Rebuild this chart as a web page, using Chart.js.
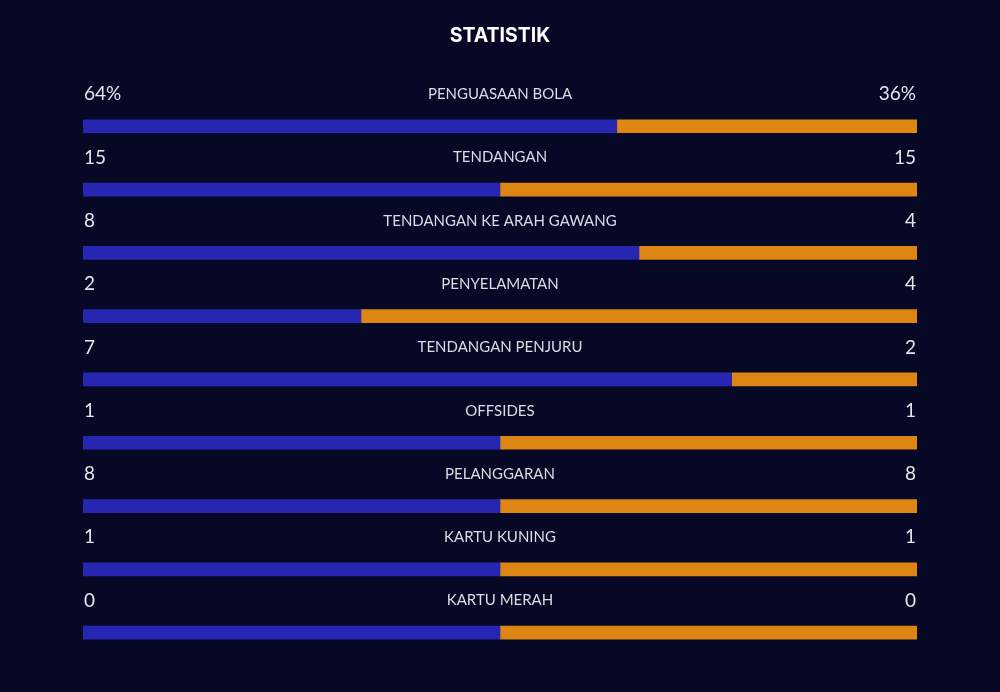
<!DOCTYPE html>
<html>
<head>
<meta charset="utf-8">
<script src="https://cdn.jsdelivr.net/npm/chart.js@4.4.1/dist/chart.umd.min.js"></script>
<style>
html,body{margin:0;padding:0;background:#070726;}
#wrap{width:1000px;height:692px;position:relative;}
</style>
</head>
<body>
<div id="wrap"><canvas id="c"></canvas></div>
<script>
const categories = ["PENGUASAAN BOLA","TENDANGAN","TENDANGAN KE ARAH GAWANG","PENYELAMATAN","TENDANGAN PENJURU","OFFSIDES","PELANGGARAN","KARTU KUNING","KARTU MERAH"];
const homeValues = [64,15,8,2,7,1,8,1,0];
const awayValues = [36,15,4,4,2,1,8,1,0];
const homeLabels = ["64%","15","8","2","7","1","8","1","0"];
const awayLabels = ["36%","15","4","4","2","1","8","1","0"];

const homeShare = homeValues.map((h,i)=>{const t=h+awayValues[i];return t===0?50:h/t*100;});
const awayShare = homeShare.map(v=>100-v);

const labelPlugin = {
  id:'rowLabels',
  afterDatasetsDraw(chart){
    const ctx = chart.ctx;
    const meta = chart.getDatasetMeta(0);
    const area = chart.chartArea;
    ctx.save();
    ctx.textBaseline='middle';
    meta.data.forEach((bar,i)=>{
      const y = bar.y - 32;
      ctx.fillStyle='#e6e6ee';
      ctx.font='19px Lato';
      ctx.textAlign='left';
      ctx.fillText(homeLabels[i], area.left+1, y);
      ctx.textAlign='right';
      ctx.fillText(awayLabels[i], area.right-1, y);
      ctx.font='15px Lato';
      ctx.fillStyle='#dcdce4';
      ctx.textAlign='center';
      ctx.fillText(categories[i], (area.left+area.right)/2, y);
    });
    ctx.restore();
  }
};

new Chart(document.getElementById('c'),{
  type:'bar',
  data:{
    labels:categories,
    datasets:[
      {data:homeShare, backgroundColor:'#2626b2', borderWidth:0, barThickness:13, borderSkipped:false},
      {data:awayShare, backgroundColor:'#de8614', borderWidth:0, barThickness:13, borderSkipped:false}
    ]
  },
  options:{
    indexAxis:'y',
    responsive:true,
    maintainAspectRatio:false,
    animation:false,
    layout:{padding:{left:83,right:83,top:0,bottom:27.7}},
    scales:{
      x:{stacked:true,min:0,max:100,display:false},
      y:{stacked:true,display:false}
    },
    plugins:{
      legend:{display:false},
      tooltip:{enabled:false},
      title:{display:true,text:'STATISTIK',color:'#ffffff',font:{family:'Inter',size:19.5,weight:'bold'},padding:{top:24,bottom:47.2}}
    }
  },
  plugins:[labelPlugin]
});
</script>
</body>
</html>
